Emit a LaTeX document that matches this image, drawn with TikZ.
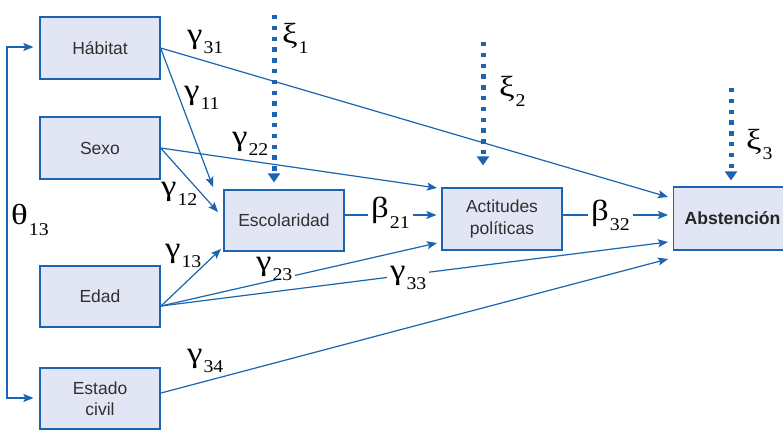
\documentclass[tikz,border=0pt]{standalone}
\usepackage{fontspec}
\setmainfont{Liberation Sans}
\newfontfamily\grkfont[FakeStretch=1.2]{Liberation Serif}
\newfontfamily\subfont[FakeStretch=1.1]{Liberation Serif}
\usetikzlibrary{arrows.meta,calc}
\definecolor{lblue}{HTML}{1A64B2}
\definecolor{bfill}{HTML}{E1E5F4}
\definecolor{txt}{HTML}{303030}
\newcommand{\glab}[2]{{\grkfont\fontsize{29}{30}\selectfont #1}\kern1pt\raisebox{-10pt}{\subfont\fontsize{18}{18}\selectfont #2}}
\begin{document}
\begin{tikzpicture}[x=1pt,y=-1pt,
  box/.style={draw=lblue, line width=1.2pt, fill=bfill, minimum width=120pt, minimum height=62pt, inner sep=0pt, align=center, font=\fontsize{17.5}{21.5}\selectfont, text=txt},
  arr/.style={draw=lblue, line width=1.2pt, -{Stealth[length=10pt,width=8pt,inset=2pt]}},
  arrb/.style={draw=lblue, line width=1.4pt, {Stealth[length=10pt,width=8pt,inset=2pt]}-{Stealth[length=10pt,width=8pt,inset=2pt]}},
  xi/.style={draw=lblue, line width=5pt, dash pattern=on 4.5pt off 6.3pt, -{Triangle[length=9pt,width=12pt]}},
  lab/.style={inner sep=0pt, anchor=base west, text=black},
  labw/.style={lab, fill=white, inner xsep=3pt}]
\clip (0,0) rectangle (783,430);
\fill[white] (0,0) rectangle (783,430);
% boxes
\node[box] (hab) at (100,48) {Hábitat};
\node[box] (sex) at (100,148) {Sexo};
\node[box, minimum height=61pt] (edad) at (100,296.5) {Edad};
\node[box, minimum height=61pt] (est) at (100,398.5) {Estado\\civil};
\node[box, minimum height=61pt] (esc) at (284,220.5) {Escolaridad};
\node[box] (act) at (502,219) {Actitudes\\políticas};
\node[box, minimum height=63pt, anchor=west, text width=115pt, inner xsep=11pt, align=left, font=\fontsize{17.6}{21.5}\selectfont\bfseries, text=black!85] (abs) at (673,218.5) {Abstención};
% theta bracket
\coordinate (ta) at (7,47);
\coordinate (tb) at (7,398);
\draw[arrb, shorten <=6pt, shorten >=6pt] (ta -| hab.west) -- (ta) -- (tb) -- (tb -| est.west);
% coordinates
\coordinate (t11) at (213,187);
\coordinate (t31) at (668,197);
\coordinate (t12) at (218,212);
\coordinate (t22) at (437,188);
\coordinate (eS) at (161,306);
\coordinate (t13) at (221,249);
\coordinate (t23) at (437,243);
\coordinate (t33) at (668,242);
\coordinate (cS) at (161,393);
\coordinate (t34) at (668,259);
% arrows
\draw[arr] (hab.east) -- (t11);
\draw[arr] (hab.east) -- (t31);
\draw[arr] (sex.east) -- (t12);
\draw[arr] (sex.east) -- (t22);
\draw[arr] (eS) -- (t13);
\draw[arr] (eS) -- (t23);
\draw[arr] (eS) -- (t33);
\draw[arr] (cS) -- (t34);
\draw[arr, shorten >=5pt] ($(esc.east)+(0,-5.5)$) -- ($(act.west)+(0,-4)$);
\draw[arr, shorten >=5pt] ($(act.east)+(0,-4)$) -- ($(abs.west)+(0,-3.5)$);
% disturbances
\coordinate (x1) at (274,15);
\coordinate (x2) at (483,42);
\coordinate (x3) at (731,88);
\draw[xi, shorten >=7pt] (x1) -- (x1 |- esc.north);
\draw[xi, shorten >=22pt] (x2) -- (x2 |- act.north);
\draw[xi, shorten >=6pt] (x3) -- (x3 |- abs.north);
% labels
\node[lab] (g31) at (187,44) {\glab{γ}{31}};
\node[lab] (g11) at (184,99.5) {\glab{γ}{11}};
\node[lab] (g22) at (232,146) {\glab{γ}{22}};
\node[lab] (g12) at (161,196) {\glab{γ}{12}};
\node[lab] (g13) at (165,257) {\glab{γ}{13}};
\node[labw] (g23) at (253,270) {\glab{γ}{23}};
\node[labw] (g33) at (387,279) {\glab{γ}{33}};
\node[lab] (g34) at (187,362) {\glab{γ}{34}};
\node[lab] (th) at (11,225) {\glab{θ}{13}};
\node[labw] (b21) at (368,218) {\glab{β}{21}};
\node[labw] (b32) at (588,220) {\glab{β}{32}};
\node[lab] (k1) at (282,44) {\glab{ξ}{1}};
\node[lab] (k2) at (499,97) {\glab{ξ}{2}};
\node[lab] (k3) at (746,150) {\glab{ξ}{3}};
\end{tikzpicture}
\end{document}
